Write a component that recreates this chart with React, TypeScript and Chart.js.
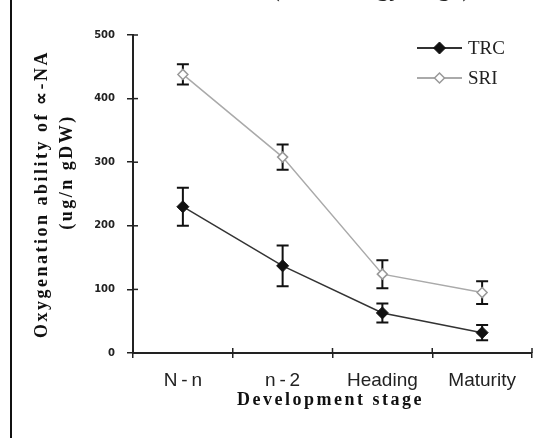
import React, { useEffect, useRef } from 'react';
import { Chart, registerables } from 'chart.js';
Chart.register(...registerables);

const CATEGORIES = ['N\u2009-\u2009n', 'n\u2009-\u20092', 'Heading', 'Maturity'];
const TRC_VALUES = [230, 137, 63, 32];
const TRC_ERRORS = [30, 32, 15, 12];
const SRI_VALUES = [438, 308, 124, 95];
const SRI_ERRORS = [16, 20, 22, 18];
const SERIES_LABELS = ['TRC', 'SRI'];
const Y_MIN = 0;
const Y_MAX = 500;
const Y_STEP = 100;
const TITLE = '(Technology stage)';
const Y_TITLE = ['Oxygenation ability of \u221D-NA', '(ug/n gDW)'];
const X_TITLE = 'Development stage';

const ERRORS = [TRC_ERRORS, SRI_ERRORS];

function drawDiamond(ctx: CanvasRenderingContext2D, x: number, y: number, r: number, fill: string, stroke: string, lw: number) {
  ctx.beginPath();
  ctx.moveTo(x - r, y);
  ctx.lineTo(x, y - r);
  ctx.lineTo(x + r, y);
  ctx.lineTo(x, y + r);
  ctx.closePath();
  ctx.fillStyle = fill;
  ctx.fill();
  ctx.lineWidth = lw;
  ctx.strokeStyle = stroke;
  ctx.stroke();
}

const decorPlugin = {
  id: 'decor',
  beforeDraw(chart: any) {
    const ctx = chart.ctx as CanvasRenderingContext2D;
    ctx.save();
    ctx.fillStyle = '#111';
    ctx.fillRect(10, 0, 2, chart.height);
    ctx.font = '26px "Liberation Serif"';
    ctx.fillStyle = '#222';
    ctx.textAlign = 'center';
    ctx.textBaseline = 'alphabetic';
    ctx.fillText(TITLE, 371, -4);
    ctx.restore();
  },
  beforeDatasetsDraw(chart: any) {
    const ctx = chart.ctx as CanvasRenderingContext2D;
    const xs = chart.scales.x;
    const ys = chart.scales.y;
    const { left, bottom } = chart.chartArea;
    ctx.save();
    ctx.strokeStyle = '#222';
    ctx.lineWidth = 1.5;
    ys.ticks.forEach((t: any) => {
      const p = ys.getPixelForValue(t.value);
      ctx.beginPath();
      ctx.moveTo(left, p);
      ctx.lineTo(left + 5, p);
      ctx.stroke();
    });
    for (let i = 0; i <= CATEGORIES.length; i++) {
      const p = xs.getPixelForValue(i - 0.5);
      ctx.beginPath();
      ctx.moveTo(p, bottom - 5);
      ctx.lineTo(p, bottom);
      ctx.stroke();
    }
    ctx.strokeStyle = '#111';
    ctx.lineWidth = 2;
    chart.data.datasets.forEach((ds: any, di: number) => {
      ds.data.forEach((v: number, i: number) => {
        const e = ERRORS[di][i];
        const x = xs.getPixelForValue(i);
        const yt = ys.getPixelForValue(v + e);
        const yb = ys.getPixelForValue(v - e);
        ctx.beginPath();
        ctx.moveTo(x, yt);
        ctx.lineTo(x, yb);
        ctx.moveTo(x - 6, yt);
        ctx.lineTo(x + 6, yt);
        ctx.moveTo(x - 6, yb);
        ctx.lineTo(x + 6, yb);
        ctx.stroke();
      });
    });
    ctx.restore();
  },
  afterDraw(chart: any) {
    const ctx = chart.ctx as CanvasRenderingContext2D;
    const { left, right, top, bottom } = chart.chartArea;
    ctx.save();
    chart.data.datasets.forEach((ds: any, i: number) => {
      const y = 48 + i * 30;
      ctx.strokeStyle = ds.borderColor;
      ctx.lineWidth = 2;
      ctx.beginPath();
      ctx.moveTo(417, y);
      ctx.lineTo(462, y);
      ctx.stroke();
      drawDiamond(ctx, 439.5, y, ds.pointRadius, ds.pointBackgroundColor, ds.pointBorderColor, ds.pointBorderWidth);
      ctx.fillStyle = '#222';
      ctx.font = '19px "Liberation Serif"';
      ctx.textAlign = 'left';
      ctx.textBaseline = 'middle';
      ctx.fillText(ds.label, 468, y + 1);
    });
    (ctx as any).letterSpacing = '2.5px';
    ctx.font = 'bold 18px "Liberation Serif"';
    ctx.fillStyle = '#111';
    ctx.textAlign = 'center';
    ctx.textBaseline = 'alphabetic';
    ctx.fillText(X_TITLE, (left + right) / 2 - 2, 405);
    ctx.translate(0, (top + bottom) / 2);
    ctx.rotate(-Math.PI / 2);
    ctx.fillText(Y_TITLE[0], 0, 47);
    ctx.fillText(Y_TITLE[1], 22, 72);
    ctx.restore();
  },
};

export default function App() {
  const ref = useRef<HTMLCanvasElement | null>(null);
  useEffect(() => {
    if (!ref.current) return;
    const chart = new Chart(ref.current, {
      type: 'line',
      data: {
        labels: CATEGORIES,
        datasets: [
          {
            label: SERIES_LABELS[0],
            data: TRC_VALUES,
            borderColor: '#333',
            borderWidth: 1.5,
            pointStyle: 'rectRot',
            pointRadius: 6,
            pointBackgroundColor: '#111',
            pointBorderColor: '#111',
            pointBorderWidth: 1,
            tension: 0,
          },
          {
            label: SERIES_LABELS[1],
            data: SRI_VALUES,
            borderColor: '#aaa',
            borderWidth: 1.5,
            pointStyle: 'rectRot',
            pointRadius: 5,
            pointBackgroundColor: '#fff',
            pointBorderColor: '#999',
            pointBorderWidth: 1.5,
            tension: 0,
          },
        ],
      },
      options: {
        responsive: false,
        animation: false,
        layout: { padding: { left: 0, right: 10, top: 35, bottom: 0 } },
        plugins: { legend: { display: false }, tooltip: { enabled: false }, title: { display: false } },
        scales: {
          x: {
            offset: true,
            grid: { offset: true, drawOnChartArea: false, drawTicks: true, tickLength: 5, color: '#222', lineWidth: 1.5 },
            border: { color: '#222', width: 2 },
            ticks: { color: '#222', font: { family: '"Liberation Sans"', size: 19 }, padding: 11, maxRotation: 0 },
            afterFit: (s: any) => { s.height = 85; },
          },
          y: {
            min: Y_MIN,
            max: Y_MAX,
            grid: { drawOnChartArea: false, drawTicks: true, tickLength: 6, color: '#222', lineWidth: 1.5 },
            border: { color: '#222', width: 2 },
            ticks: { stepSize: Y_STEP, color: '#222', font: { family: '"DejaVu Sans"', size: 10, weight: 'bold' }, padding: 12 },
            afterFit: (s: any) => { s.width = 133; },
          },
        },
      },
      plugins: [decorPlugin],
    });
    return () => chart.destroy();
  }, []);
  return (
    <div style={{ position: 'absolute', left: 0, top: 0, width: 542, height: 438, background: '#fff' }}>
      <canvas ref={ref} width={542} height={438} style={{ display: 'block' }} />
    </div>
  );
}
